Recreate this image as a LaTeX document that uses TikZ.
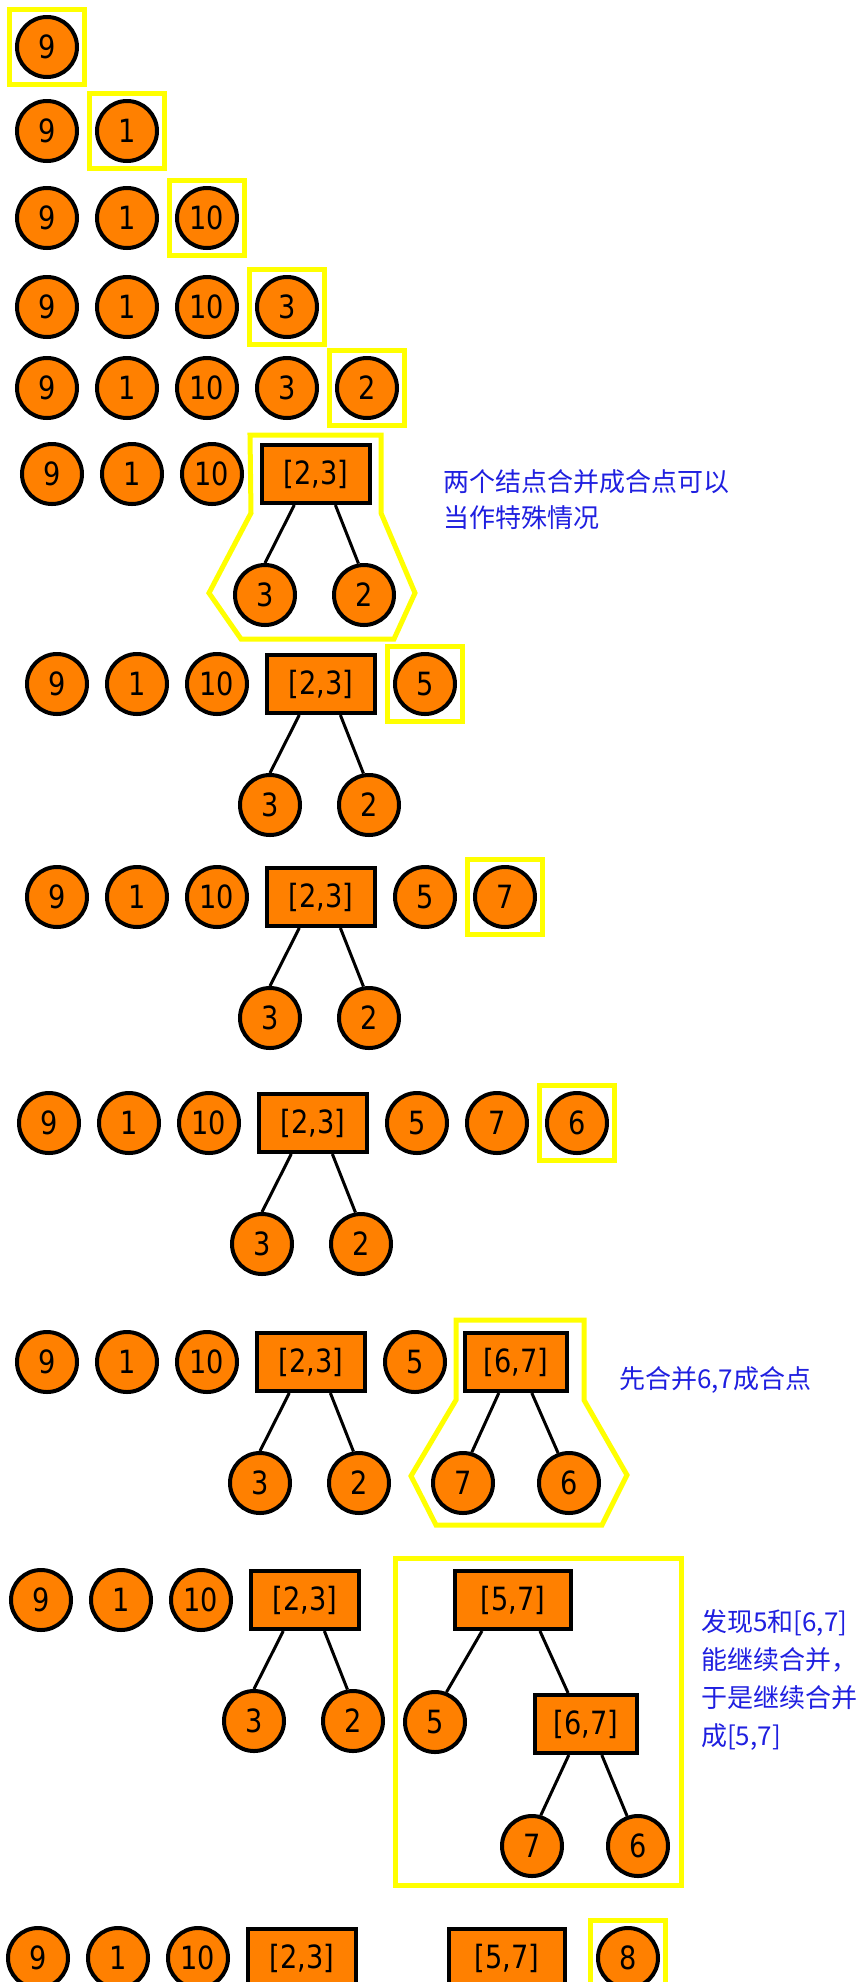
\documentclass[tikz,border=0pt]{standalone}
\usepackage{fontspec}
\newfontfamily\nodefont[FakeStretch=0.85]{DejaVu Sans}
\newfontfamily\cjk{Noto Sans CJK SC}
\usetikzlibrary{positioning,calc}
\definecolor{orange}{HTML}{FF8000}
\definecolor{hly}{HTML}{FFFF00}
\definecolor{noteblue}{HTML}{1F1FE0}

\begin{document}
\begin{tikzpicture}[x=1pt,y=-1pt,
  node distance=16pt,
  leaf/.style={circle,draw,line width=4pt,fill=orange,minimum size=60pt,inner sep=0pt,font=\nodefont\fontsize{32}{38}\selectfont},
  seg/.style={rectangle,draw,line width=4pt,fill=orange,minimum width=108pt,minimum height=58pt,inner sep=0pt,font=\nodefont\fontsize{32}{38}\selectfont},
  hl/.style={draw=hly,line width=5pt},
  hlbox/.style={hl,minimum size=75pt,inner sep=0pt},
  ln/.style={line width=3pt},
  note/.style={text=noteblue,align=left,inner sep=0pt,font=\cjk\fontsize{26}{38}\selectfont}]
\useasboundingbox (0,0) rectangle (864,1982);
\fill[white] (0,0) rectangle (864,1982);
\clip (0,0) rectangle (864,1982);
% row 1
\node[leaf] (a1) at (47,47) {9};
\node[hlbox] (ha) at (a1.center) {};
% row 2
\node[leaf] (b1) at (47,131) {9};
\node[leaf,right=of b1] (b2) {1};
\node[hlbox] (hb) at (b2.center) {};
% row 3
\node[leaf] (c1) at (47,218) {9};
\node[leaf,right=of c1] (c2) {1};
\node[leaf,right=of c2] (c3) {10};
\node[hlbox] (hc) at (c3.center) {};
% row 4
\node[leaf] (d1) at (47,307) {9};
\node[leaf,right=of d1] (d2) {1};
\node[leaf,right=of d2] (d3) {10};
\node[leaf,right=of d3] (d4) {3};
\node[hlbox] (hd) at (d4.center) {};
% row 5
\node[leaf] (e1) at (47,388) {9};
\node[leaf,right=of e1] (e2) {1};
\node[leaf,right=of e2] (e3) {10};
\node[leaf,right=of e3] (e4) {3};
\node[leaf,right=of e4] (e5) {2};
\node[hlbox] (he) at (e5.center) {};
% row 6: 3 and 2 merged
\node[leaf] (f1) at (52,474) {9};
\node[leaf,right=of f1] (f2) {1};
\node[leaf,right=of f2] (f3) {10};
\node[seg,right=of f3] (f4) {[2,3]};
\node[leaf,below=58pt of f4,xshift=-51pt] (f5) {3};
\node[leaf,below=58pt of f4,xshift=48pt] (f6) {2};
\draw[ln] (f4.235) -- (f5.north);
\draw[ln] (f4.302) -- (f6.100);
\draw[hl] ($(f4)+(-66,-39)$) -- ($(f4)+(65,-39)$) -- ($(f4)+(65,39)$) -- ($(f4)+(99,119)$)
  -- ($(f4)+(78,165)$) -- ($(f4)+(-75,165)$) -- ($(f4)+(-107,119)$) -- ($(f4)+(-65,39)$) -- cycle;
\node[note,right=71pt of f4,yshift=-26pt] (t6) {两个结点合并成合点可以\\[-2pt]当作特殊情况};
% row 7
\node[leaf] (g1) at (57,684) {9};
\node[leaf,right=of g1] (g2) {1};
\node[leaf,right=of g2] (g3) {10};
\node[seg,right=of g3] (g4) {[2,3]};
\node[leaf,right=of g4] (g5) {5};
\node[leaf,below=58pt of g4,xshift=-51pt] (g6) {3};
\node[leaf,below=58pt of g4,xshift=48pt] (g7) {2};
\draw[ln] (g4.235) -- (g6.north);
\draw[ln] (g4.302) -- (g7.100);
\node[hlbox] (hg) at (g5.center) {};
% row 8
\node[leaf] (h1) at (57,897) {9};
\node[leaf,right=of h1] (h2) {1};
\node[leaf,right=of h2] (h3) {10};
\node[seg,right=of h3] (h4) {[2,3]};
\node[leaf,right=of h4] (h5) {5};
\node[leaf,right=of h5] (h6) {7};
\node[leaf,below=58pt of h4,xshift=-51pt] (h7) {3};
\node[leaf,below=58pt of h4,xshift=48pt] (h8) {2};
\draw[ln] (h4.235) -- (h7.north);
\draw[ln] (h4.302) -- (h8.100);
\node[hlbox] (hh) at (h6.center) {};
% row 9
\node[leaf] (i1) at (49,1123) {9};
\node[leaf,right=of i1] (i2) {1};
\node[leaf,right=of i2] (i3) {10};
\node[seg,right=of i3] (i4) {[2,3]};
\node[leaf,right=of i4] (i5) {5};
\node[leaf,right=of i5] (i6) {7};
\node[leaf,right=of i6] (i7) {6};
\node[leaf,below=58pt of i4,xshift=-51pt] (i8) {3};
\node[leaf,below=58pt of i4,xshift=48pt] (i9) {2};
\draw[ln] (i4.235) -- (i8.north);
\draw[ln] (i4.302) -- (i9.100);
\node[hlbox] (hi) at (i7.center) {};
% row 10: 7 and 6 merged
\node[leaf] (j1) at (47,1362) {9};
\node[leaf,right=of j1] (j2) {1};
\node[leaf,right=of j2] (j3) {10};
\node[seg,right=of j3] (j4) {[2,3]};
\node[leaf,right=of j4] (j5) {5};
\node[seg,minimum width=102pt,right=of j5] (j6) {[6,7]};
\node[leaf,below=58pt of j4,xshift=-51pt] (j7) {3};
\node[leaf,below=58pt of j4,xshift=48pt] (j8) {2};
\node[leaf,below=58pt of j6,xshift=-53pt] (j9) {7};
\node[leaf,below=58pt of j6,xshift=53pt] (j10) {6};
\draw[ln] (j4.235) -- (j7.north);
\draw[ln] (j4.302) -- (j8.100);
\draw[ln] (j6.241) -- (j9.74);
\draw[ln] (j6.297) -- (j10.110);
\draw[hl] ($(j6)+(-60,-42)$) -- ($(j6)+(68,-42)$) -- ($(j6)+(68,38)$) -- ($(j6)+(111,113)$)
  -- ($(j6)+(86,163)$) -- ($(j6)+(-80,163)$) -- ($(j6)+(-105,114)$) -- ($(j6)+(-60,38)$) -- cycle;
\node[note,right=50pt of j6,yshift=-18pt] (t10) {先合并6,7成合点};
% row 11: 5 and [6,7] merged
\node[leaf] (k1) at (41,1600) {9};
\node[leaf,right=of k1] (k2) {1};
\node[leaf,right=of k2] (k3) {10};
\node[seg,right=of k3] (k4) {[2,3]};
\node[leaf,below=58pt of k4,xshift=-51pt] (k5) {3};
\node[leaf,below=58pt of k4,xshift=48pt] (k6) {2};
\draw[ln] (k4.235) -- (k5.north);
\draw[ln] (k4.302) -- (k6.100);
\node[seg,minimum width=116pt,right=92pt of k4] (k7) {[5,7]};
\node[leaf,below=59pt of k7,xshift=-78pt] (k8) {5};
\node[seg,minimum width=102pt,below=62pt of k7,xshift=73pt] (k9) {[6,7]};
\node[leaf,below=59pt of k9,xshift=-54pt] (k10) {7};
\node[leaf,below=59pt of k9,xshift=52pt] (k11) {6};
\draw[ln] (k7.225) -- (k8.69);
\draw[ln] (k7.311) -- (k9.120);
\draw[ln] (k9.241) -- (k10.74);
\draw[ln] (k9.297) -- (k11.110);
\draw[hl] ($(k7)+(-118,-42)$) rectangle ($(k7)+(168,285)$);
\node[note,right=128pt of k7,yshift=-80pt] (t11) {发现5和[6,7]\\能继续合并，\\于是继续合并\\成[5,7]};
% row 12
\node[leaf] (l1) at (38,1958) {9};
\node[leaf,right=of l1] (l2) {1};
\node[leaf,right=of l2] (l3) {10};
\node[seg,right=of l3] (l4) {[2,3]};
\node[seg,minimum width=116pt,right=89pt of l4] (l5) {[5,7]};
\node[leaf,right=29pt of l5] (l6) {8};
\node[hlbox] (hl12) at (l6.center) {};
\end{tikzpicture}
\end{document}
